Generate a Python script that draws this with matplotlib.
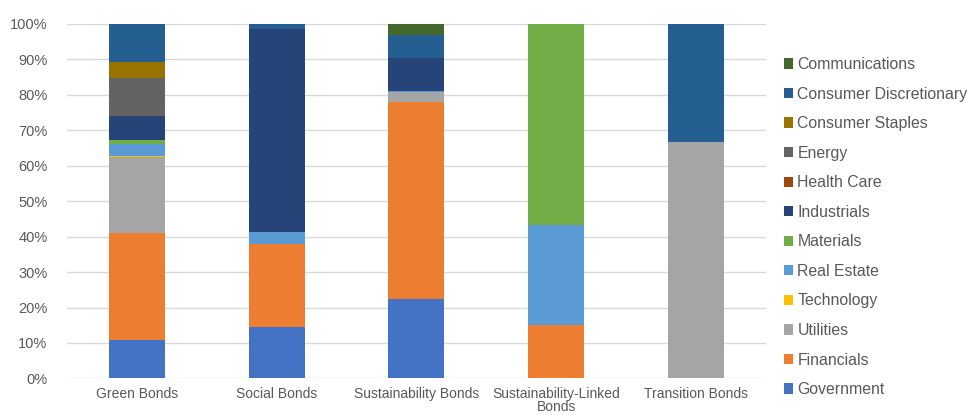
import matplotlib
matplotlib.use("Agg")
import matplotlib.pyplot as plt
from matplotlib.ticker import PercentFormatter
import numpy as np

plt.rcParams['font.family'] = ['Liberation Sans', 'DejaVu Sans']

categories = ["Green Bonds", "Social Bonds", "Sustainability Bonds",
              "Sustainability-Linked\nBonds", "Transition Bonds"]

# stacking order, bottom to top
sectors = ["Government", "Financials", "Utilities", "Technology", "Real Estate",
           "Materials", "Industrials", "Health Care", "Energy",
           "Consumer Staples", "Consumer Discretionary", "Communications"]

government             = [10.8, 14.6, 22.3, 0.0, 0.0]
financials             = [30.1, 23.2, 55.7, 15.1, 0.0]
utilities              = [21.5, 0.0, 2.6, 0.0, 66.6]
technology             = [0.4, 0.0, 0.0, 0.0, 0.0]
real_estate            = [3.2, 3.5, 0.3, 28.1, 0.0]
materials              = [1.2, 0.0, 0.0, 56.8, 0.0]
industrials            = [6.9, 57.3, 9.3, 0.0, 0.0]
health_care            = [0.0, 0.0, 0.0, 0.0, 0.0]
energy                 = [10.7, 0.0, 0.0, 0.0, 0.0]
consumer_staples       = [4.4, 0.0, 0.0, 0.0, 0.0]
consumer_discretionary = [10.8, 1.4, 6.5, 0.0, 33.4]
communications         = [0.0, 0.0, 3.3, 0.0, 0.0]

series = [government, financials, utilities, technology, real_estate, materials,
          industrials, health_care, energy, consumer_staples,
          consumer_discretionary, communications]

colors = ["#4472C4", "#ED7D31", "#A5A5A5", "#FFC000", "#5B9BD5", "#70AD47",
          "#264478", "#9E480E", "#636363", "#997300", "#255E91", "#43682B"]

fig = plt.figure(figsize=(9.68, 4.15), dpi=100)
ax = fig.add_axes([0.0692, 0.088, 0.7218, 0.855])

x = np.arange(len(categories))
bottom = np.zeros(len(categories))
handles = []
for name, vals, c in zip(sectors, series, colors):
    v = np.array(vals) / 100.0
    b = ax.bar(x, v, width=0.4, bottom=bottom, color=c, label=name, zorder=3)
    handles.append(b)
    bottom += v

ax.set_xlim(-0.5, len(categories) - 0.5)
ax.set_ylim(0, 1.0)
ax.set_yticks(np.arange(0, 1.01, 0.1))
ax.yaxis.set_major_formatter(PercentFormatter(1.0, decimals=0))
ax.set_xticks(x)
ax.set_xticklabels(categories, fontsize=10, color="#595959", linespacing=0.95)
ax.tick_params(axis='y', labelsize=10.5, labelcolor="#595959", length=0, pad=14)
ax.tick_params(axis='x', length=0, pad=6)
ax.grid(axis='y', color="#D9D9D9", linewidth=1, zorder=0)
for s in ax.spines.values():
    s.set_visible(False)

leg = fig.legend(handles[::-1], sectors[::-1], loc='upper left',
                 bbox_to_anchor=(0.803, 0.878), frameon=False,
                 fontsize=11.4, labelcolor="#595959",
                 handlelength=0.62, handleheight=0.62, handletextpad=0.25,
                 labelspacing=0.92, borderaxespad=0)

fig.savefig("out.png", dpi=100)
